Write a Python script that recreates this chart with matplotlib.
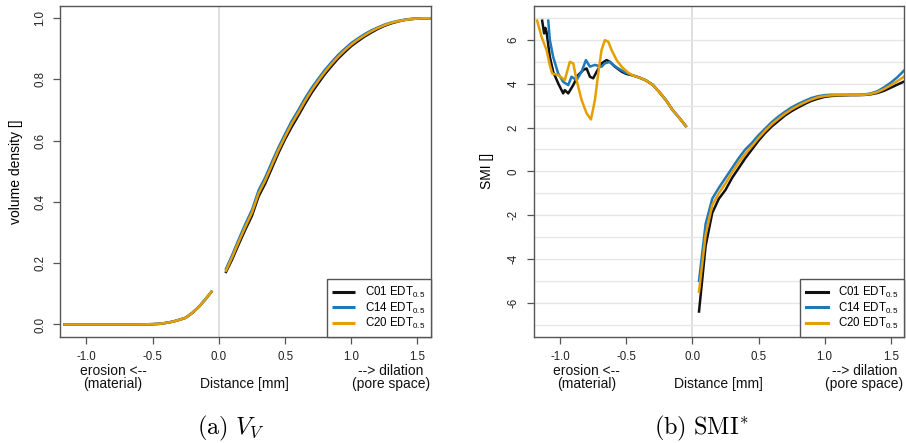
import numpy as np
import matplotlib
matplotlib.use("Agg")
import matplotlib.pyplot as plt

plt.rcParams['font.family'] = ['Liberation Sans', 'DejaVu Sans']
plt.rcParams['axes.unicode_minus'] = False
plt.rcParams['mathtext.fontset'] = 'custom'
plt.rcParams['mathtext.rm'] = 'Liberation Sans'
plt.rcParams['mathtext.it'] = 'Liberation Sans:italic'
plt.rcParams['mathtext.bf'] = 'Liberation Sans:bold'

# ---------------- data ----------------
series_names = ["C01", "C14", "C20"]
series_colors = ["#111111", "#1f78b8", "#E69F00"]

# Volume density, erosion side (all three overlap)
vv_ero_x = [-1.175, -1.1, -1.0, -0.9, -0.8, -0.7, -0.6, -0.5, -0.45, -0.4,
            -0.35, -0.3, -0.25, -0.2, -0.15, -0.1, -0.05]
vv_ero = [0.0, 0.0, 0.0, 0.0, 0.0, 0.0, 0.0, 0.001, 0.002, 0.005,
          0.009, 0.015, 0.022, 0.038, 0.058, 0.083, 0.11]

# Volume density, dilation side
vv_dil_x = [0.05, 0.1, 0.15, 0.2, 0.25, 0.3, 0.35, 0.4, 0.45, 0.5, 0.55, 0.6,
            0.65, 0.7, 0.75, 0.8, 0.85, 0.9, 0.95, 1.0, 1.05, 1.1, 1.15, 1.2,
            1.25, 1.3, 1.35, 1.4, 1.45, 1.5, 1.55, 1.6]
vv_c01 = [0.168, 0.212, 0.262, 0.31, 0.355, 0.418, 0.46, 0.51, 0.56, 0.605, 0.645, 0.682,
          0.72, 0.756, 0.787, 0.817, 0.843, 0.868, 0.889, 0.909, 0.925, 0.94, 0.953, 0.965,
          0.975, 0.983, 0.989, 0.994, 0.997, 0.999, 1.0, 1.0]
vv_c14 = [0.178, 0.226, 0.278, 0.328, 0.374, 0.438, 0.48, 0.53, 0.578, 0.622, 0.664, 0.7,
          0.738, 0.772, 0.802, 0.831, 0.856, 0.88, 0.9, 0.919, 0.934, 0.948, 0.96, 0.97,
          0.979, 0.986, 0.991, 0.995, 0.998, 0.999, 1.0, 1.0]
vv_c20 = [0.172, 0.219, 0.27, 0.319, 0.365, 0.428, 0.47, 0.52, 0.569, 0.613, 0.655, 0.691,
          0.729, 0.764, 0.795, 0.824, 0.85, 0.874, 0.895, 0.914, 0.93, 0.944, 0.957, 0.968,
          0.977, 0.985, 0.99, 0.994, 0.997, 0.999, 1.0, 1.0]

# SMI, erosion side
smi_ero_tail_x = [-0.45, -0.4, -0.35, -0.3, -0.25, -0.2, -0.15, -0.1, -0.05]
smi_ero_tail = [4.38, 4.28, 4.15, 3.95, 3.62, 3.25, 2.8, 2.45, 2.07]

smi_ero_c01_x = [-1.136, -1.121, -1.112, -1.103, -1.078, -1.053, -1.015, -0.977, -0.965,
                 -0.939, -0.901, -0.863, -0.825, -0.8, -0.775, -0.75, -0.724, -0.687,
                 -0.649, -0.624, -0.586, -0.535, -0.5]
smi_ero_c01 = [6.88, 6.3, 6.55, 6.37, 5.23, 4.55, 4.02, 3.56, 3.71,
               3.56, 3.94, 4.4, 4.63, 4.7, 4.32, 4.25, 4.55, 4.93,
               5.08, 5.0, 4.78, 4.55, 4.45]

smi_ero_c14_x = [-1.09, -1.078, -1.053, -1.015, -0.977, -0.939, -0.914, -0.876, -0.838,
                 -0.805, -0.775, -0.737, -0.687, -0.662, -0.624, -0.599, -0.561, -0.51]
smi_ero_c14 = [6.88, 6.0, 5.23, 4.47, 4.09, 3.94, 4.32, 4.17, 4.55,
               5.08, 4.78, 4.86, 4.78, 4.93, 5.0, 4.86, 4.7, 4.52]

smi_ero_c20_x = [-1.174, -1.141, -1.103, -1.078, -1.06, -1.015, -0.965, -0.927, -0.901,
                 -0.876, -0.838, -0.8, -0.767, -0.737, -0.712, -0.687, -0.662, -0.636,
                 -0.611, -0.573, -0.535, -0.485]
smi_ero_c20 = [6.88, 6.15, 5.54, 4.85, 4.47, 4.4, 4.17, 5.0, 4.93,
               4.17, 3.26, 2.65, 2.37, 3.26, 4.47, 5.54, 5.99, 5.92,
               5.54, 5.08, 4.78, 4.5]

# SMI, dilation side
smi_dil_x = vv_dil_x
smi_c01 = [-6.4, -3.4, -1.9, -1.25, -0.85, -0.3, 0.15, 0.6, 1.0, 1.4, 1.75, 2.05,
           2.3, 2.55, 2.75, 2.92, 3.08, 3.22, 3.32, 3.4, 3.44, 3.46, 3.47, 3.48,
           3.48, 3.49, 3.52, 3.58, 3.68, 3.82, 3.96, 4.1]
smi_c14 = [-5.0, -2.4, -1.25, -0.75, -0.3, 0.15, 0.6, 1.0, 1.3, 1.65, 1.95, 2.25,
           2.5, 2.72, 2.92, 3.08, 3.22, 3.35, 3.43, 3.48, 3.5, 3.5, 3.5, 3.5,
           3.5, 3.51, 3.56, 3.66, 3.84, 4.05, 4.3, 4.6]
smi_c20 = [-5.5, -2.9, -1.55, -1.0, -0.55, -0.05, 0.4, 0.8, 1.15, 1.52, 1.85, 2.15,
           2.4, 2.63, 2.83, 3.0, 3.15, 3.28, 3.38, 3.44, 3.47, 3.48, 3.49, 3.49,
           3.49, 3.5, 3.54, 3.62, 3.76, 3.93, 4.12, 4.32]

xticks = [-1.0, -0.5, 0.0, 0.5, 1.0, 1.5]
xtick_labels = ["-1.0", "-0.5", "0.0", "0.5", "1.0", "1.5"]
vv_yticks = [0.0, 0.2, 0.4, 0.6, 0.8, 1.0]
vv_ytick_labels = ["0.0", "0.2", "0.4", "0.6", "0.8", "1.0"]
smi_yticks = [-6, -4, -2, 0, 2, 4, 6]
smi_ytick_labels = ["-6", "-4", "-2", "0", "2", "4", "6"]
smi_grid = [-7, -6, -5, -4, -3, -2, -1, 0, 1, 2, 3, 4, 5, 6, 7]

# ---------------- figure ----------------
W, H = 906, 443
fig = plt.figure(figsize=(W / 100, H / 100), dpi=100)

ax1 = fig.add_axes([60 / W, (H - 336.7) / H, 370.7 / W, 330.7 / H])
ax2 = fig.add_axes([533.7 / W, (H - 336.7) / H, 370.3 / W, 330.7 / H])

spine_col = "#555555"
fs_tick = 8.3
fs_lab = 10.0
fs_leg = 8.3
lw = 1.8


def style(ax):
    for s in ax.spines.values():
        s.set_color(spine_col)
        s.set_linewidth(1.0)
    ax.set_xlim(-1.2, 1.6)
    ax.set_xticks(xticks)
    ax.set_xticklabels(xtick_labels)
    ax.tick_params(axis='both', direction='out', length=5, width=0.9,
                   color=spine_col, labelsize=fs_tick, pad=5, labelcolor="#222222")
    ax.axvline(0, color="#d9d9d9", lw=1.2, zorder=0)
    for y, t in [(-24.7, "erosion <--"), (-34.3, "(material)")]:
        ax.annotate(t, xy=(-0.8, 0), xycoords=('data', 'axes fraction'),
                    xytext=(0, y), textcoords='offset points', ha='center',
                    va='center', fontsize=fs_lab, color="#111111")
    ax.annotate("Distance [mm]", xy=(0.195, 0), xycoords=('data', 'axes fraction'),
                xytext=(0, -34.3), textcoords='offset points', ha='center',
                va='center', fontsize=fs_lab, color="#111111")
    for y, t in [(-24.7, "--> dilation"), (-34.3, "(pore space)")]:
        ax.annotate(t, xy=(1.3, 0), xycoords=('data', 'axes fraction'),
                    xytext=(0, y), textcoords='offset points', ha='center',
                    va='center', fontsize=fs_lab, color="#111111")


style(ax1)
style(ax2)

# Panel a
ax1.set_ylim(-0.04, 1.04)
ax1.set_yticks(vv_yticks)
ax1.set_yticklabels(vv_ytick_labels, rotation=90, va='center')
ax1.set_ylabel("volume density []", fontsize=fs_lab, labelpad=8)
vv_sets = [vv_c01, vv_c14, vv_c20]
for name, col, vals in zip(series_names, series_colors, vv_sets):
    ax1.plot(vv_ero_x, vv_ero, color=col, lw=lw, solid_capstyle='butt')
    ax1.plot(vv_dil_x, vals, color=col, lw=lw, solid_capstyle='butt',
             label=name + r" EDT$_{0.5}$")

# Panel b
ax2.set_ylim(-7.55, 7.55)
ax2.set_yticks(smi_yticks)
ax2.set_yticklabels(smi_ytick_labels, rotation=90, va='center')
ax2.set_ylabel("SMI []", fontsize=fs_lab, labelpad=10)
for g in smi_grid:
    ax2.axhline(g, color="#e6e6e6", lw=1.0, zorder=0)
ero_sets = [(smi_ero_c01_x, smi_ero_c01), (smi_ero_c14_x, smi_ero_c14),
            (smi_ero_c20_x, smi_ero_c20)]
smi_sets = [smi_c01, smi_c14, smi_c20]
for name, col, (ex, ey), vals in zip(series_names, series_colors, ero_sets, smi_sets):
    ax2.plot(list(ex) + smi_ero_tail_x, list(ey) + smi_ero_tail, color=col, lw=lw)
    ax2.plot(smi_dil_x, vals, color=col, lw=lw, label=name + r" EDT$_{0.5}$")

for ax in (ax1, ax2):
    leg = ax.legend(loc='lower right', borderaxespad=0, fontsize=fs_leg,
                    frameon=True, fancybox=False, handlelength=1.95,
                    handletextpad=0.85, labelspacing=0.02, borderpad=0.5)
    leg.get_frame().set_edgecolor(spine_col)
    leg.get_frame().set_linewidth(1.0)
    leg.get_frame().set_alpha(1.0)
    for l in leg.get_lines():
        l.set_linewidth(2.2)

# captions
fig.text(231 / W, (H - 428) / H, r"$\mathrm{(a)}\ V_V$", ha='center', va='center',
         fontsize=17.5, math_fontfamily='cm')
fig.text(701 / W, (H - 428) / H, r"$\mathrm{(b)\ SMI}^{*}$", ha='center', va='center',
         fontsize=17.5, math_fontfamily='cm')

fig.savefig("out.png", dpi=100)
